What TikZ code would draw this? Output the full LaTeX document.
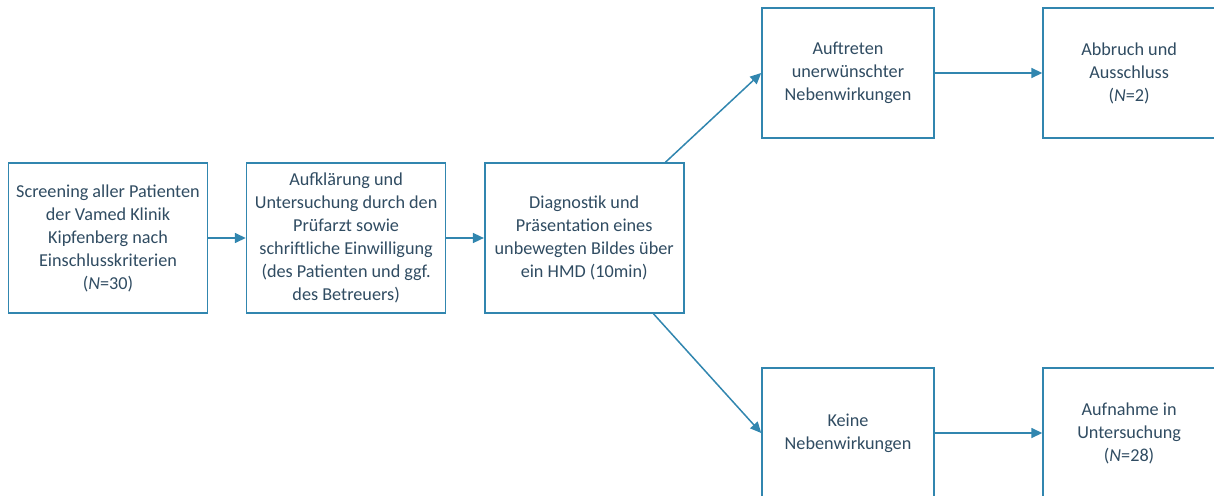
\documentclass[tikz,border=0pt]{standalone}
\usepackage{fontspec}
\setmainfont{Carlito}
\usetikzlibrary{positioning,arrows.meta}
\definecolor{boxblue}{RGB}{49,134,175}
\definecolor{textblue}{RGB}{48,76,98}

\begin{document}
\begin{tikzpicture}[x=1pt,y=-1pt,
    stepbox/.style={draw=boxblue, line width=1.6pt, fill=white, align=center,
      text=textblue, font=\fontsize{18.2}{23}\selectfont, inner sep=0pt},
    wide/.style={stepbox, minimum width=199pt, minimum height=150pt},
    small/.style={stepbox, minimum width=172pt, minimum height=130pt},
    flow/.style={draw=boxblue, line width=1.5pt, -{Triangle[length=11pt,width=10pt]}}]
  \useasboundingbox (0,0) rectangle (1214,495);

  \node [wide] (screen) at (108,238) {Screening aller Patienten\\der Vamed Klinik\\Kipfenberg nach\\Einschlusskriterien\\(\textit{N}=30)};
  \node [wide, right=37.5pt of screen] (aufkl) {Aufklärung und\\Untersuchung durch den\\Prüfarzt sowie\\schriftliche Einwilligung\\(des Patienten und ggf.\\des Betreuers)};
  \node [wide, right=37.5pt of aufkl] (diag) {Diagnostik und\\Präsentation eines\\unbewegten Bildes über\\ein HMD (10min)};

  \node [small] (nw) at (848,73) {Auftreten\\unerwünschter\\Nebenwirkungen};
  \node [small, right=107.5pt of nw] (abbr) {Abbruch und\\Ausschluss\\(\textit{N}=2)};
  \node [small] (keine) at (848,433) {Keine\\Nebenwirkungen};
  \node [small, right=107.5pt of keine] (aufn) {Aufnahme in\\Untersuchung\\(\textit{N}=28)};

  \draw [flow] (screen) -- (aufkl);
  \draw [flow] (aufkl) -- (diag);
  \draw [flow] ([xshift=-19pt]diag.north east) -- (nw.west);
  \draw [flow] ([xshift=-31pt]diag.south east) -- (keine.west);
  \draw [flow] (nw) -- (abbr);
  \draw [flow] (keine) -- (aufn);
\end{tikzpicture}
\end{document}
